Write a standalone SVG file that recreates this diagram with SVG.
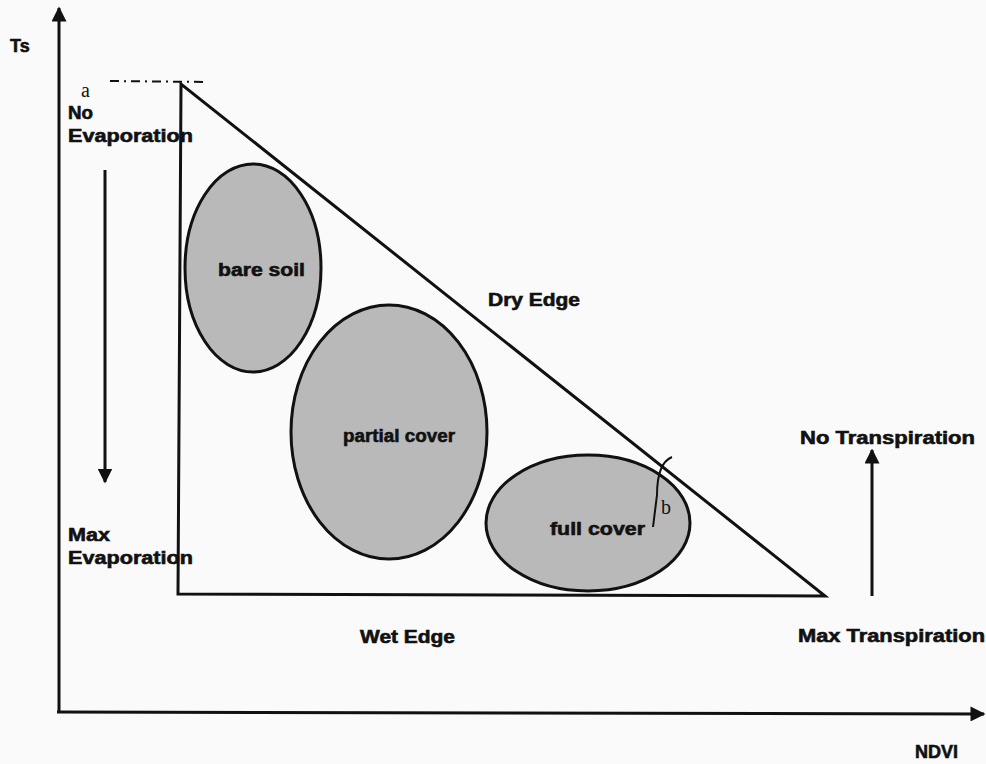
<svg xmlns="http://www.w3.org/2000/svg" width="986" height="764" viewBox="0 0 986 764">
<style>
.lbl{font-family:"Liberation Sans",Arial,sans-serif;font-weight:bold;font-size:18px;fill:#111;stroke:#111;stroke-width:0.6}
.ser{font-family:"Liberation Serif","Times New Roman",serif;font-size:20px;fill:#111}
.ln{stroke:#111;stroke-width:3;fill:none}
.blob{fill:#b9b9b9;stroke:#111;stroke-width:3}
</style>
<defs>
<marker id="ah" viewBox="0 0 10 10" refX="9" refY="5" markerWidth="5" markerHeight="5" orient="auto" markerUnits="strokeWidth">
<path d="M0,0 L10,5 L0,10 z" fill="#111"/>
</marker>
<marker id="ahb" viewBox="0 0 10 10" refX="9" refY="5" markerWidth="6" markerHeight="5" orient="auto" markerUnits="strokeWidth">
<path d="M0,0 L10,5 L0,10 z" fill="#111"/>
</marker>
</defs>
<rect width="986" height="764" fill="#fafafa"/>
<g id="connectors">
<line class="ln" x1="59" y1="712" x2="59" y2="8" marker-end="url(#ahb)"/>
<line class="ln" x1="57" y1="712" x2="984" y2="714" marker-end="url(#ahb)"/>
<line class="ln" x1="105" y1="170" x2="105" y2="482" marker-end="url(#ah)"/>
<line class="ln" x1="872" y1="596" x2="872" y2="450" marker-end="url(#ah)"/>
<line x1="110" y1="81" x2="208" y2="82" stroke="#111" stroke-width="2" stroke-dasharray="9,5,2,5"/>
</g>
<g id="triangle">
<path class="ln" d="M181,84 L178,594 L825,596 Z" stroke-linejoin="miter"/>
</g>
<g id="bare-soil">
<ellipse class="blob" cx="253" cy="268" rx="68" ry="104"/>
<text class="lbl" x="218" y="276" textLength="87" lengthAdjust="spacingAndGlyphs">bare soil</text>
</g>
<g id="partial-cover">
<ellipse class="blob" cx="389" cy="432" rx="98" ry="127"/>
<text class="lbl" x="343" y="442" textLength="112" lengthAdjust="spacingAndGlyphs">partial cover</text>
</g>
<g id="full-cover">
<ellipse class="blob" cx="588" cy="523" rx="102" ry="68"/>
<text class="lbl" x="550" y="535" textLength="95" lengthAdjust="spacingAndGlyphs">full cover</text>
</g>
<g id="b-mark">
<path d="M672,457 C660,462 657,480 657,495 L653,527" stroke="#111" stroke-width="2" fill="none"/>
<text class="ser" x="661" y="514">b</text>
</g>
<g id="labels">
<text class="lbl" x="10" y="52" font-size="11">Ts</text>
<text class="ser" x="81" y="97">a</text>
<text class="lbl" x="68" y="119" textLength="25" lengthAdjust="spacingAndGlyphs">No</text>
<text class="lbl" x="68" y="142" textLength="125" lengthAdjust="spacingAndGlyphs">Evaporation</text>
<text class="lbl" x="68" y="541" textLength="42" lengthAdjust="spacingAndGlyphs">Max</text>
<text class="lbl" x="68" y="564" textLength="125" lengthAdjust="spacingAndGlyphs">Evaporation</text>
<text class="lbl" x="488" y="306" textLength="92" lengthAdjust="spacingAndGlyphs">Dry Edge</text>
<text class="lbl" x="360" y="643" textLength="95" lengthAdjust="spacingAndGlyphs">Wet Edge</text>
<text class="lbl" x="800" y="444" textLength="175" lengthAdjust="spacingAndGlyphs">No Transpiration</text>
<text class="lbl" x="798" y="642" textLength="187" lengthAdjust="spacingAndGlyphs">Max Transpiration</text>
<text class="lbl" x="915" y="758" font-size="14">NDVI</text>
</g>
</svg>
